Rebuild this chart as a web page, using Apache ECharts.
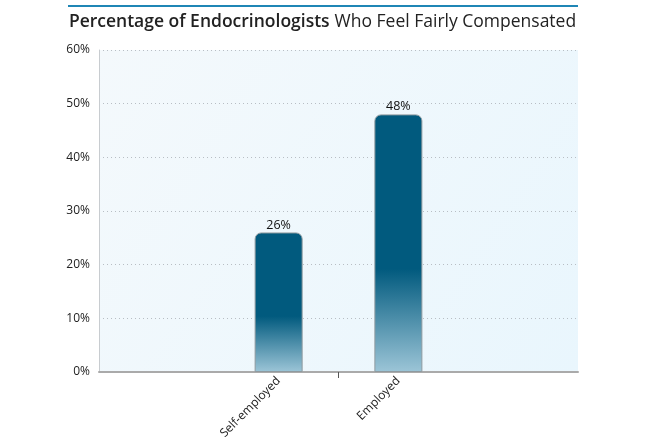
<!DOCTYPE html>
<html>
<head>
<meta charset="utf-8">
<script src="https://cdn.jsdelivr.net/npm/echarts@6/dist/echarts.min.js"></script>
<style>
html,body{margin:0;padding:0;background:#fff;}
#main{width:645px;height:439px;}
</style>
</head>
<body>
<div id="main"></div>
<script>
var categories = ['', 'Self-employed', 'Employed', ''];
var values = [null, 26, 48, null];
var yTicks = [0, 10, 20, 30, 40, 50, 60];

var chart = echarts.init(document.getElementById('main'), null, {renderer: 'canvas'});
var font = '"Open Sans", Lato, sans-serif';
var option = {
  backgroundColor: '#ffffff',
  animation: false,
  title: {
    text: '{b|Percentage of Endocrinologists} {n|Who Feel Fairly Compensated}',
    left: 'center',
    top: 8,
    textStyle: {
      rich: {
        b: {fontFamily: font, fontWeight: 600, fontSize: 17.5, color: '#222'},
        n: {fontFamily: font, fontWeight: 'normal', fontSize: 17.5, color: '#222'}
      }
    }
  },
  graphic: [{
    type: 'rect',
    shape: {x: 68, y: 5, width: 510, height: 2},
    style: {fill: '#1f86b5'},
    silent: true
  }],
  grid: {
    left: 99, right: 67, top: 50, bottom: 67,
    outerBoundsMode: 'none',
    containLabel: false,
    show: true,
    borderWidth: 0,
    backgroundColor: new echarts.graphic.LinearGradient(0, 0, 1, 1, [
      {offset: 0, color: '#f4f9fc'},
      {offset: 1, color: '#e9f6fd'}
    ])
  },
  xAxis: [{
    type: 'category',
    data: categories,
    axisLine: {lineStyle: {color: '#aaaaaa', width: 2}},
    axisTick: {show: false},
    axisLabel: {
      rotate: 45,
      interval: 0,
      fontFamily: font,
      fontSize: 12,
      color: '#222',
      margin: 7
    }
  }, {
    type: 'value',
    position: 'bottom',
    min: 0,
    max: 2,
    axisLine: {show: false},
    axisLabel: {show: false},
    splitLine: {show: false},
    axisTick: {show: true, length: 6, customValues: [1], lineStyle: {color: '#555', width: 1}}
  }],
  yAxis: {
    type: 'value',
    min: yTicks[0],
    max: yTicks[yTicks.length - 1],
    interval: 10,
    axisLine: {show: true, lineStyle: {color: '#c8ccd0', width: 1}},
    axisTick: {show: false},
    axisLabel: {
      formatter: '{value}%',
      fontFamily: font,
      fontSize: 12,
      color: '#222',
      margin: 9
    },
    splitLine: {show: true, lineStyle: {color: '#b8bec4', type: [1, 3], width: 1}}
  },
  series: [{
    type: 'bar',
    data: values,
    barWidth: 48,
    itemStyle: {
      borderRadius: [6, 6, 0, 0],
      borderColor: '#8f9a9f',
      borderWidth: 1,
      color: new echarts.graphic.LinearGradient(0, 0, 0, 1, [
        {offset: 0, color: '#015a7e'},
        {offset: 0.6, color: '#015a7e'},
        {offset: 1, color: '#9cc5d7'}
      ])
    },
    label: {
      show: true,
      position: 'top',
      distance: 1,
      formatter: '{c}%',
      fontFamily: font,
      fontSize: 12.5,
      color: '#111'
    }
  }]
};
chart.setOption(option);
</script>
</body>
</html>
